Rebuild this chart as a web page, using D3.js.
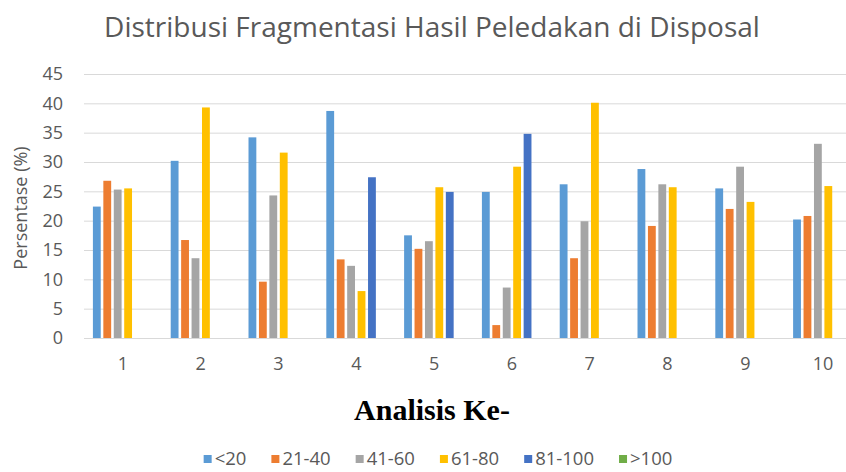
<!DOCTYPE html>
<html>
<head>
<meta charset="utf-8">
<script src="https://cdn.jsdelivr.net/npm/d3@7"></script>
<style>
  body { margin: 0; background: #fff; }
  svg { display: block; font-family: "Open Sans", Lato, sans-serif; }
</style>
</head>
<body>
<div id="chart"></div>
<script>
const categories = ["1", "2", "3", "4", "5", "6", "7", "8", "9", "10"];
const seriesNames = ["<20", "21-40", "41-60", "61-80", "81-100", ">100"];
const seriesColors = ["#5B9BD5", "#ED7D31", "#A5A5A5", "#FFC000", "#4472C4", "#70AD47"];

const under20 = [22.4, 30.2, 34.2, 38.7, 17.5, 24.9, 26.2, 28.8, 25.5, 20.2];
const r21to40 = [26.8, 16.7, 9.6, 13.4, 15.2, 2.2, 13.6, 19.1, 22.0, 20.8];
const r41to60 = [25.3, 13.6, 24.3, 12.3, 16.5, 8.6, 19.9, 26.2, 29.2, 33.1];
const r61to80 = [25.5, 39.3, 31.6, 8.0, 25.7, 29.2, 40.1, 25.7, 23.2, 25.9];
const r81to100 = [null, null, null, 27.4, 24.9, 34.8, null, null, null, null];
const over100 = [null, null, null, null, null, null, null, null, null, null];

const yTicks = [0, 5, 10, 15, 20, 25, 30, 35, 40, 45];

const allSeries = [under20, r21to40, r41to60, r61to80, r81to100, over100];

const width = 846, height = 472;
const plot = { left: 84, right: 862, top: 74, bottom: 338 };

const svg = d3.select("#chart").append("svg")
    .attr("width", width)
    .attr("height", height);

const x = d3.scaleBand()
    .domain(categories)
    .range([plot.left, plot.right])
    .paddingInner(0.229)
    .paddingOuter(0.1145);

const xSub = d3.scaleBand()
    .domain(seriesNames)
    .range([0, x.bandwidth()])
    .paddingInner(0.25)
    .paddingOuter(0);

const y = d3.scaleLinear()
    .domain([0, 45])
    .range([plot.bottom, plot.top]);

const color = d3.scaleOrdinal().domain(seriesNames).range(seriesColors);

// gridlines
svg.append("g")
    .attr("transform", `translate(${plot.left},0)`)
    .call(d3.axisLeft(y).tickValues(yTicks).tickSize(-(plot.right - plot.left)).tickFormat(""))
    .call(g => g.select(".domain").remove())
    .selectAll("line")
    .attr("stroke", "#D9D9D9")
    .attr("stroke-width", 1);

// y labels
svg.append("g")
    .attr("transform", `translate(${plot.left - 21},0)`)
    .call(d3.axisLeft(y).tickValues(yTicks).tickSize(0).tickPadding(0))
    .call(g => g.select(".domain").remove())
    .selectAll("text")
    .attr("font-family", "'Open Sans', Lato, sans-serif")
    .attr("font-size", 18)
    .attr("fill", "#595959");

// bars
const rows = [];
allSeries.forEach((vals, si) => {
  vals.forEach((v, ci) => {
    if (v != null) rows.push({ series: seriesNames[si], cat: categories[ci], value: v });
  });
});

svg.append("g").attr("class", "bars")
  .selectAll("rect")
  .data(rows)
  .join("rect")
    .attr("x", d => x(d.cat) + xSub(d.series))
    .attr("width", xSub.bandwidth())
    .attr("y", d => y(d.value))
    .attr("height", d => y(0) - y(d.value))
    .attr("fill", d => color(d.series));

// x axis
svg.append("g")
    .attr("transform", `translate(0,${plot.bottom})`)
    .call(d3.axisBottom(x).tickSize(0).tickPadding(19))
    .call(g => g.select(".domain").attr("stroke", "#D9D9D9"))
    .selectAll("text")
    .attr("font-family", "'Open Sans', Lato, sans-serif")
    .attr("font-size", 18)
    .attr("fill", "#595959");

// title
svg.append("text")
    .attr("x", 432)
    .attr("y", 37)
    .attr("text-anchor", "middle")
    .attr("font-size", 28)
    .attr("fill", "#595959")
    .text("Distribusi Fragmentasi Hasil Peledakan di Disposal");

// y axis title
svg.append("text")
    .attr("transform", `translate(27,208) rotate(-90)`)
    .attr("text-anchor", "middle")
    .attr("font-size", 18)
    .attr("fill", "#595959")
    .text("Persentase (%)");

// x axis title
svg.append("text")
    .attr("x", 432)
    .attr("y", 420)
    .attr("text-anchor", "middle")
    .attr("font-family", "'Liberation Serif', 'Times New Roman', serif")
    .attr("font-weight", "bold")
    .attr("font-size", 30)
    .attr("fill", "#000")
    .text("Analisis Ke-");

// legend
const legend = svg.append("g").attr("class", "legend");
const items = legend.selectAll("g")
    .data(seriesNames)
    .join("g");

items.append("rect")
    .attr("width", 8)
    .attr("height", 8)
    .attr("y", 455)
    .attr("fill", d => color(d));

items.append("text")
    .attr("x", 11)
    .attr("y", 465)
    .attr("font-size", 18.5)
    .attr("fill", "#595959")
    .text(d => d);

let cursor = 0;
const offsets = [];
items.each(function () {
  const w = d3.select(this).select("text").node().getComputedTextLength();
  offsets.push(cursor);
  cursor += 11 + w + 25;
});
const total = cursor - 25;
const legendStart = 438 - total / 2;
items.attr("transform", (d, i) => `translate(${legendStart + offsets[i]},0)`);
</script>
</body>
</html>
